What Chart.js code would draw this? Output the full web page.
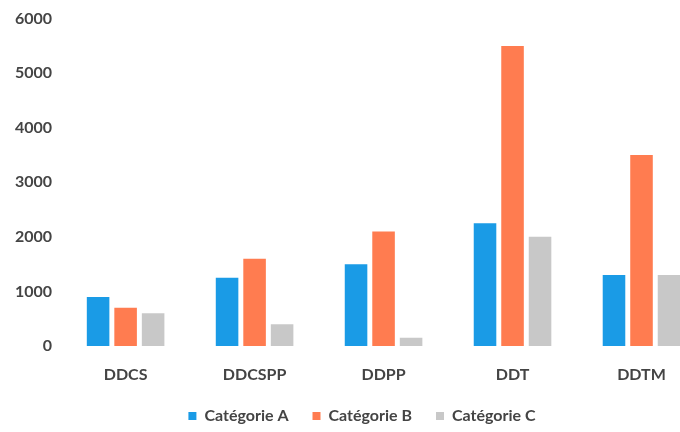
<!DOCTYPE html>
<html><head><meta charset="utf-8">
<script src="https://cdn.jsdelivr.net/npm/chart.js@4/dist/chart.umd.min.js"></script>
<style>html,body{margin:0;padding:0;background:#fff;overflow:hidden}#w{width:706px;height:432px}</style>
</head><body><div id="w"><canvas id="c"></canvas></div>
<script>
const categories = ["DDCS", "DDCSPP", "DDPP", "DDT", "DDTM"];
const seriesNames = ["Catégorie A", "Catégorie B", "Catégorie C"];
const catA = [900, 1250, 1500, 2250, 1300];
const catB = [700, 1600, 2100, 5500, 3500];
const catC = [600, 400, 150, 2000, 1300];
const yTicks = [0, 1000, 2000, 3000, 4000, 5000, 6000];

const colors = ["#1a9be6", "#ff7c50", "#c8c8c8"];
const font = {family: "Lato", weight: "bold", size: 16};

const legendShift = {
  id: 'legendShift',
  afterLayout(chart) { const l = chart.legend; l.left += 6; l.right += 6; }
};

new Chart(document.getElementById('c'), {
  type: 'bar',
  data: {
    labels: categories,
    datasets: [catA, catB, catC].map((d, i) => ({
      label: seriesNames[i], data: d, backgroundColor: colors[i],
      categoryPercentage: 0.64, barPercentage: 0.82
    }))
  },
  options: {
    responsive: true, maintainAspectRatio: false, animation: false,
    layout: {padding: {left: 6, right: 0, top: 0, bottom: 0}},
    plugins: {
      legend: {position: 'bottom', maxHeight: 48,
               labels: {boxWidth: 8, boxHeight: 8, padding: 24, color: '#444', font: font}},
      tooltip: {enabled: false}
    },
    scales: {
      x: {grid: {display: false, drawTicks: false}, border: {display: false},
          afterFit: s => { s.height = 38; },
          ticks: {color: '#444', font: font, padding: 19}},
      y: {min: 0, max: 6000, grid: {display: false, drawTicks: false}, border: {display: false},
          afterBuildTicks: s => { s.ticks = yTicks.map(v => ({value: v})); },
          ticks: {color: '#444', font: font, padding: 9, callback: v => String(v)}}
    }
  },
  plugins: [legendShift]
});
</script></body></html>
